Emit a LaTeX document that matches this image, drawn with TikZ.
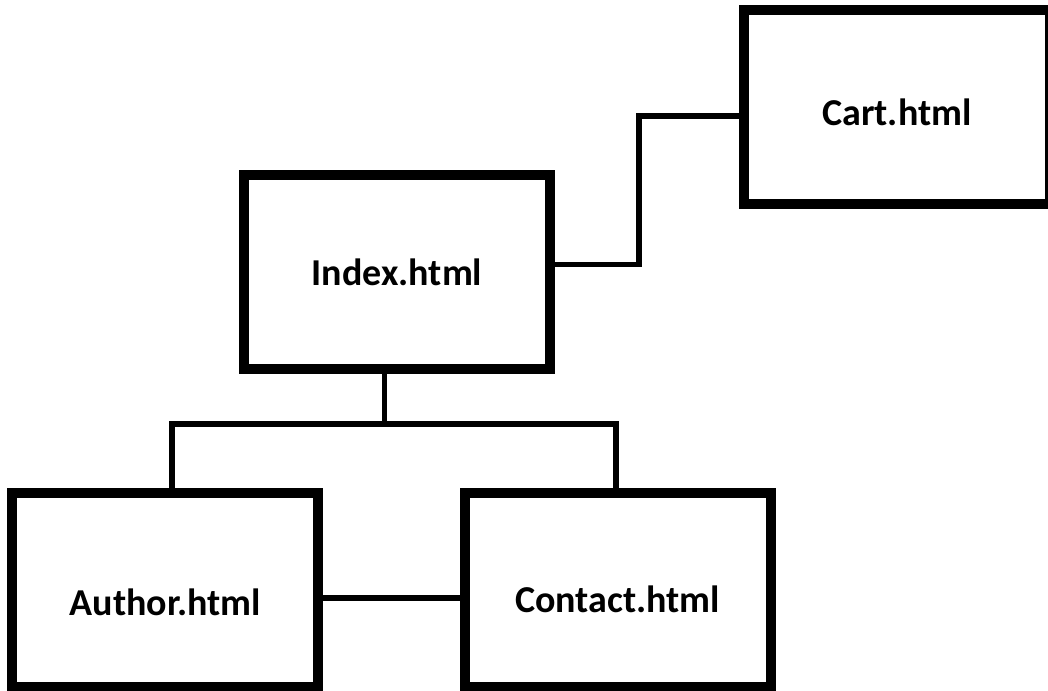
\documentclass[tikz,border=0pt]{standalone}
\usepackage{fontspec}
\setmainfont{Carlito}
\usetikzlibrary{positioning, calc}

\begin{document}
\begin{tikzpicture}[x=1pt, y=-1pt,
    page/.style={draw, line width=10pt, minimum width=306pt, minimum height=194pt,
        inner sep=0pt, font=\fontsize{38}{42}\selectfont\bfseries},
    lowered/.style={text height=#1},
    link/.style={line width=5.7pt}]
    \clip (0,0) rectangle (1048,690);

    % Pages
    \node[page, lowered=37pt] (cart) at (897,107) {Cart.html};
    \node[page] (index) at (397,272) {Index.html};
    \node[page, lowered=51pt] (author) at (165.3,590) {Author.html};
    \node[page, lowered=45pt] (contact) at (617.5,590) {Contact.html};

    % Links
    \draw[link] ([yshift=7.5pt]index.east) -| ([xshift=-100pt,yshift=-9pt]cart.west) -- ([yshift=-9pt]cart.west);
    \coordinate (split) at (384.5,424);
    \draw[link] ([xshift=-12.5pt]index.south) -- (split);
    \draw[link] ([xshift=7pt]author.north) |- (split) -| ([xshift=-1.5pt]contact.north);
    \draw[link] ([yshift=-8.3pt]author.east) -- ([yshift=-8.3pt]contact.west);
\end{tikzpicture}
\end{document}
